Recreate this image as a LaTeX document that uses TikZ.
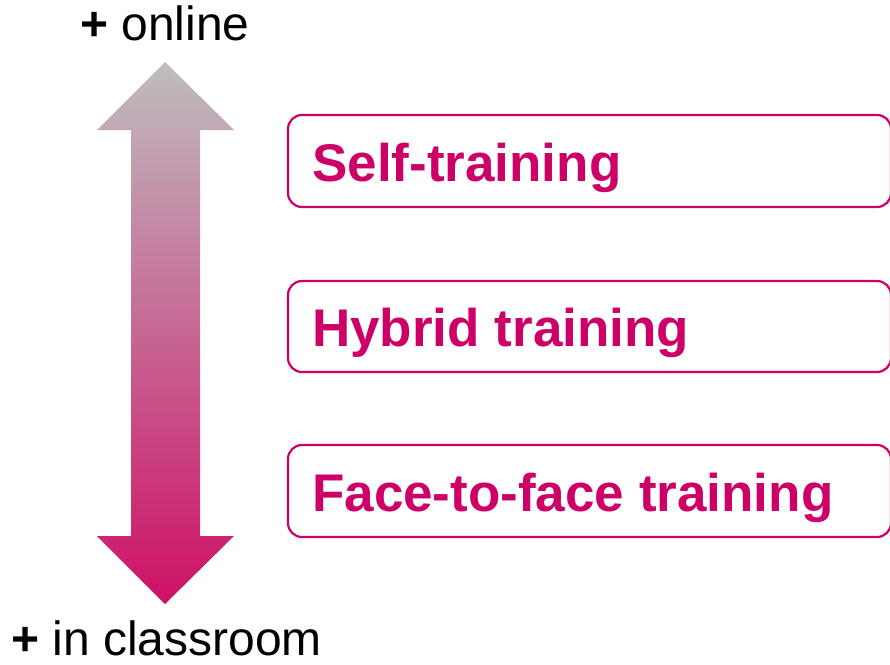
\documentclass[tikz,border=0pt]{standalone}
\usepackage{fontspec}
\setmainfont{Liberation Sans}
\definecolor{magen}{RGB}{204,0,102}
\definecolor{arrowtop}{RGB}{191,189,191}
\definecolor{arrowmid}{RGB}{198,140,155}
\definecolor{arrowbot}{RGB}{206,16,102}
\tikzset{
  optbox/.style={draw=magen, line width=2.2pt, rounded corners=14pt, fill=white},
  opttext/.style={anchor=base west, inner sep=0pt, text=magen, font=\fontsize{53}{60}\selectfont\bfseries},
  endlabel/.style={anchor=base west, inner sep=0pt, text=black, font=\fontsize{48}{54}\selectfont}
}
\begin{document}
\begin{tikzpicture}[x=1pt,y=-1pt]
\useasboundingbox (0,0) rectangle (890,664);
% double arrow with gradient
\shade[top color=arrowtop, middle color=arrowmid, bottom color=arrowbot]
  (165,62) -- (234,130) -- (200,130) -- (200,536) -- (234,536) -- (165,604)
  -- (97,536) -- (131,536) -- (131,130) -- (97,130) -- cycle;
% labels
\node[endlabel] (online) at (80,40) {\textbf{+} online};
\node[endlabel] (classroom) at (11,655) {\textbf{+} in classroom};
% boxes
\draw[optbox] (288,115) rectangle (891,207);
\node[opttext] (self) at (312,181) {Self-training};
\draw[optbox] (288,281) rectangle (891,372);
\node[opttext] (hybrid) at (312,346) {Hybrid training};
\draw[optbox] (288,445) rectangle (891,537);
\node[opttext] (face) at (312,511) {Face-to-face training};
\end{tikzpicture}
\end{document}
